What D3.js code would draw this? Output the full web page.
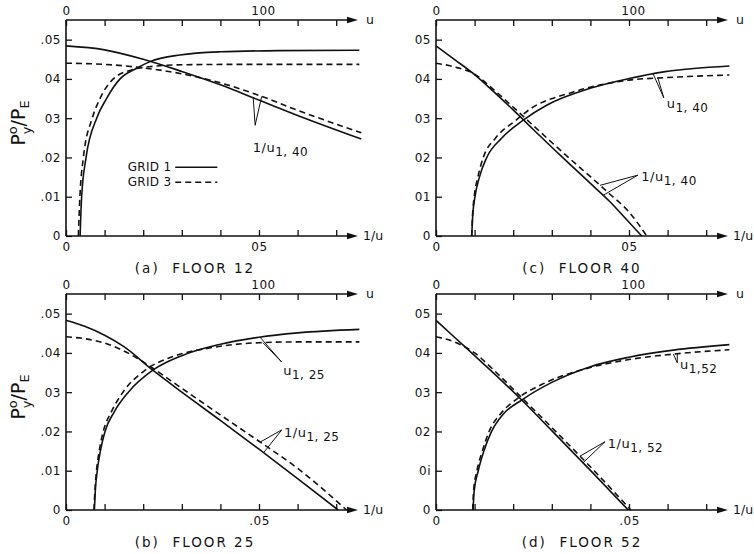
<!DOCTYPE html>
<html><head><meta charset="utf-8">
<script src="https://cdn.jsdelivr.net/npm/d3@7"></script>
<style>
body{margin:0;background:#fff}
text{font-family:"DejaVu Sans",sans-serif;fill:#111}
</style>
</head><body>
<svg id="chart" width="754" height="554"></svg>
<script>
// ---- axis ticks / labels ----
const uTicks = [0, 20, 40, 60, 80, 100, 120, 140];
const tTicks = [0, .01, .02, .03, .04, .05, .06, .07];
const yTicks = [0, .01, .02, .03, .04, .05];
const yLabels_a = ['0', '.01', '.02', '03', '04', '.05'];
const yLabels_b = ['0', '.01', '.02', '03', '.04', '.05'];
const yLabels_c = ['0', '01', '02', '03', '04', '05'];
const yLabels_d = ['0', '0i', '02', '03', '04', '05'];
const xLabel05 = ['05', '.05', '05', '.05']; // a, b, c, d
const panelLetters = ['(a)', '(b)', '(c)', '(d)'];
const floorNames = ['FLOOR 12', 'FLOOR 25', 'FLOOR 40', 'FLOOR 52'];

// ---- Floor 12 (a) ----
const a_rise_g1_u = [7.3, 8.1, 10.4, 15.9, 21, 28, 36.6, 43.5, 59, 80, 110, 152];
const a_rise_g1_p = [0, .01, .02, .03, .035, .04, .0427, .0444, .0461, .0469, .0472, .0473];
const a_rise_g3_u = [6.4, 7.2, 9, 13.6, 17.6, 24.5, 34.7, 45, 60, 90, 152];
const a_rise_g3_p = [0, .01, .02, .03, .035, .04, .0424, .0432, .0436, .0437, .0437];
const a_fall_g1_t = [0, .01, .02, .03, .04, .05, .06, .0765];
const a_fall_g1_p = [.0484, .0474, .0450, .0419, .0385, .0346, .0307, .0247];
const a_fall_g3_t = [0, .01, .02, .03, .04, .05, .06, .0765];
const a_fall_g3_p = [.0440, .0437, .0428, .0413, .0390, .0358, .0320, .0263];

// ---- Floor 25 (b) ----
const b_rise_g1_u = [14.7, 15.2, 16.2, 17.8, 20.2, 25, 32.3, 45, 60, 80, 100, 120, 152];
const b_rise_g1_p = [0, .005, .01, .015, .02, .025, .030, .0356, .0393, .0422, .0440, .0451, .0460];
const b_rise_g3_u = [14.5, 15, 15.8, 17.2, 19.3, 23.5, 29.5, 41, 55, 75, 100, 120, 152];
const b_rise_g3_p = [0, .005, .01, .015, .02, .025, .030, .0356, .0390, .0413, .0426, .0428, .0428];
const b_fall_g1_t = [0, .005, .01, .015, .0225, .03, .04, .05, .06, .0705];
const b_fall_g1_p = [.0483, .0467, .0445, .0416, .0356, .0300, .0228, .0155, .0080, 0];
const b_fall_g3_t = [0, .005, .01, .015, .02, .0225, .03, .04, .05, .06, .0727];
const b_fall_g3_p = [.0441, .0436, .0425, .0405, .0377, .0361, .0310, .0242, .0175, .0106, 0];

// ---- Floor 40 (c) ----
const c_rise_g1_u = [18.5, 19, 20.2, 22.5, 26.3, 34, 45.2, 57.3, 79.8, 100, 118, 152];
const c_rise_g1_p = [0, .005, .01, .015, .02, .0249, .0295, .0333, .0376, .0401, .0418, .0433];
const c_rise_g3_u = [18.5, 18.9, 19.8, 21.7, 24.5, 31, 41.5, 48.7, 70, 100, 118, 152];
const c_rise_g3_p = [0, .005, .01, .015, .02, .025, .0295, .0323, .0365, .0397, .0403, .0410];
const c_fall_g1_t = [0, .005, .01, .015, .02, .025, .03, .035, .04, .045, .05, .0533];
const c_fall_g1_p = [.0484, .0448, .0411, .0367, .0321, .0273, .0226, .0180, .0134, .0088, .0035, 0];
const c_fall_g3_t = [0, .005, .01, .015, .02, .025, .03, .035, .04, .045, .05, .0546];
const c_fall_g3_p = [.0440, .0430, .0412, .0372, .0328, .0283, .0238, .0194, .0151, .0107, .0061, 0];

// ---- Floor 52 (d) ----
const d_rise_g1_u = [19.2, 19.8, 21.9, 24.8, 28.8, 35, 44.4, 60, 80, 100, 123, 152];
const d_rise_g1_p = [0, .005, .01, .015, .02, .0245, .028, .0325, .0365, .0389, .0407, .0421];
const d_rise_g3_u = [19, 19.5, 21.2, 24, 27.5, 33.5, 42.5, 55, 80, 100, 123, 152];
const d_rise_g3_p = [0, .005, .01, .015, .02, .0245, .0285, .032, .0363, .0383, .0397, .0408];
const d_fall_g1_t = [0, .005, .01, .015, .0222, .03, .04, .0498];
const d_fall_g1_p = [.0483, .0438, .0393, .0348, .0280, .0202, .0101, 0];
const d_fall_g3_t = [0, .005, .01, .015, .0222, .03, .04, .0505];
const d_fall_g3_p = [.0441, .0427, .0400, .0356, .0286, .0210, .0110, 0];

const zip = (a, b) => a.map((v, i) => [v, b[i]]);

const panels = [
  {k: 0, x0: 66, y0: 236, yl: yLabels_a, yTitle: true,
   r1: zip(a_rise_g1_u, a_rise_g1_p), r3: zip(a_rise_g3_u, a_rise_g3_p),
   f1: zip(a_fall_g1_t, a_fall_g1_p), f3: zip(a_fall_g3_t, a_fall_g3_p),
   notes: [{kind: 'f', sub: '1, 40', ends: [[.0485, 1], [.0507, 3]], tip: [.049, .0282], lab: [.0484, .0224]}],
   legend: true},
  {k: 1, x0: 66, y0: 510, yl: yLabels_b, yTitle: true,
   r1: zip(b_rise_g1_u, b_rise_g1_p), r3: zip(b_rise_g3_u, b_rise_g3_p),
   f1: zip(b_fall_g1_t, b_fall_g1_p), f3: zip(b_fall_g3_t, b_fall_g3_p),
   notes: [{kind: 'r', sub: '1, 25', ends: [[100.5, 1], [102, 3]], tip: [111.7, .0377], lab: [112.5, .0353]},
           {kind: 'f', sub: '1, 25', ends: [[.0512, 1], [.0503, 3]], tip: [.0559, .0204], lab: [.0565, .0196]}]},
  {k: 2, x0: 436, y0: 236, yl: yLabels_c, yTitle: false,
   r1: zip(c_rise_g1_u, c_rise_g1_p), r3: zip(c_rise_g3_u, c_rise_g3_p),
   f1: zip(c_fall_g1_t, c_fall_g1_p), f3: zip(c_fall_g3_t, c_fall_g3_p),
   notes: [{kind: 'r', sub: '1, 40', ends: [[112.5, 1], [115, 3]], tip: [118, .0352], lab: [119.5, .0336]},
           {kind: 'f', sub: '1, 40', ends: [[.0433, 1], [.0425, 3]], tip: [.0523, .0155], lab: [.0532, .0150]}]},
  {k: 3, x0: 436, y0: 510, yl: yLabels_d, yTitle: false,
   r1: zip(d_rise_g1_u, d_rise_g1_p), r3: zip(d_rise_g3_u, d_rise_g3_p),
   f1: zip(d_fall_g1_t, d_fall_g1_p), f3: zip(d_fall_g3_t, d_fall_g3_p),
   notes: [{kind: 'r', sub: '1,52', ends: [[123, 3], [125, 3]], tip: [125, .0375], lab: [126.4, .0368]},
           {kind: 'f', sub: '1, 52', ends: [[.0381, 1], [.0373, 3]], tip: [.0438, .0174], lab: [.0445, .0168]}]}
];

const svg = d3.select('#chart');
const INK = '#111';

function drawPanel(p) {
  const g = svg.append('g');
  const W = 193; // px per 100 u  /  per .05 of 1/u
  const xu = d3.scaleLinear().domain([0, 100]).range([p.x0, p.x0 + W]);
  const xt = d3.scaleLinear().domain([0, .05]).range([p.x0, p.x0 + W]);
  const y = d3.scaleLinear().domain([0, .055]).range([p.y0, p.y0 - 216]);
  const yTop = y(.055);
  const xEnd = p.x0 + 292;

  const styleAxis = sel => {
    sel.attr('font-family', '"DejaVu Sans",sans-serif').attr('font-size', 12);
    sel.selectAll('line').attr('stroke', INK).attr('stroke-width', 1.3);
    sel.selectAll('text').attr('fill', INK).style('letter-spacing', '0.5px');
  };

  // bottom axis (1/u)
  const bx = g.append('g').attr('transform', `translate(0,${p.y0})`)
    .call(d3.axisBottom(xt).tickValues(tTicks).tickSizeInner(-6).tickSizeOuter(0).tickPadding(6)
      .tickFormat(d => Math.abs(d) < 1e-9 ? '0' : Math.abs(d - .05) < 1e-9 ? xLabel05[p.k] : ''));
  bx.select('.domain').remove();
  styleAxis(bx);

  // top axis (u)
  const tx = g.append('g').attr('transform', `translate(0,${yTop})`)
    .call(d3.axisTop(xu).tickValues(uTicks).tickSizeInner(-6).tickSizeOuter(0).tickPadding(5)
      .tickFormat(d => d === 0 ? '0' : d === 100 ? '100' : ''));
  tx.select('.domain').remove();
  styleAxis(tx);
  tx.selectAll('.tick text').filter(d => d === 100).attr('dx', 4);

  // left axis
  const lx = g.append('g').attr('transform', `translate(${p.x0},0)`)
    .call(d3.axisLeft(y).tickValues(yTicks).tickSizeInner(-6).tickSizeOuter(0).tickPadding(5)
      .tickFormat((d, i) => p.yl[i]));
  lx.select('.domain').attr('stroke', INK).attr('stroke-width', 1.6)
    .attr('d', `M0,${p.y0}V${yTop}`);
  styleAxis(lx);

  // horizontal axis lines with arrows
  [[p.y0, '1/u', 5], [yTop, 'u', 8]].forEach(([yy, lab, off]) => {
    g.append('line').attr('x1', p.x0).attr('x2', xEnd - 6).attr('y1', yy).attr('y2', yy)
      .attr('stroke', INK).attr('stroke-width', 1.6);
    g.append('path').attr('d', `M${xEnd},${yy}L${xEnd - 11},${yy - 3.2}L${xEnd - 11},${yy + 3.2}Z`)
      .attr('fill', INK);
    g.append('text').attr('x', xEnd + off).attr('y', yy).attr('dy', '0.35em')
      .attr('font-size', 12.5).text(lab);
  });

  // curves
  const lineU = d3.line().x(d => xu(d[0])).y(d => y(d[1])).curve(d3.curveMonotoneX);
  const lineT = d3.line().x(d => xt(d[0])).y(d => y(d[1])).curve(d3.curveMonotoneX);
  const draw = (gen, data, dashed) => g.append('path').attr('d', gen(data)).attr('fill', 'none')
    .attr('stroke', INK).attr('stroke-width', 1.6).attr('stroke-dasharray', dashed ? '6,4' : null);
  draw(lineU, p.r1, false); draw(lineU, p.r3, true);
  draw(lineT, p.f1, false); draw(lineT, p.f3, true);

  // annotations
  const interp = data => d3.scaleLinear().domain(data.map(d => d[0])).range(data.map(d => d[1]));
  p.notes.forEach(n => {
    const sx = n.kind === 'r' ? xu : xt;
    const c1 = interp(n.kind === 'r' ? p.r1 : p.f1), c3 = interp(n.kind === 'r' ? p.r3 : p.f3);
    const tx0 = sx(n.tip[0]), ty0 = y(n.tip[1]);
    n.ends.forEach(([v, gr]) => {
      const yy = y(gr === 1 ? c1(v) : c3(v));
      g.append('line').attr('x1', tx0).attr('y1', ty0).attr('x2', sx(v)).attr('y2', yy)
        .attr('stroke', INK).attr('stroke-width', 1);
    });
    const t = g.append('text').attr('x', sx(n.lab[0])).attr('y', y(n.lab[1])).attr('dy', '0.3em')
      .attr('font-size', 13).style('letter-spacing', '0.5px');
    t.append('tspan').text(n.kind === 'r' ? 'u' : '1/u');
    t.append('tspan').attr('dy', 4).attr('font-size', 12).text(n.sub);
  });

  // title
  const cx = p.x0 + (p.x0 < 100 ? 129 : 146);
  g.append('text').attr('x', cx).attr('y', p.y0 + 37).attr('text-anchor', 'middle')
    .attr('font-size', 13.5).style('letter-spacing', '2px').style('white-space', 'pre')
    .text(panelLetters[p.k] + '  ' + floorNames[p.k]);

  // y title
  if (p.yTitle) {
    const yt = g.append('text').attr('transform', `translate(25,${p.y0 - 113}) rotate(-90)`)
      .attr('text-anchor', 'middle').attr('font-size', 19);
    yt.append('tspan').text('P');
    yt.append('tspan').attr('font-size', 13).attr('dy', -8).text('o');
    yt.append('tspan').attr('font-size', 13).attr('dx', -8).attr('dy', 14).text('y');
    yt.append('tspan').attr('dy', -6).text('/');
    yt.append('tspan').text('P');
    yt.append('tspan').attr('font-size', 13).attr('dy', 4).text('E');
  }

  // legend
  if (p.legend) {
    const lg = [['GRID 1', false, .0175], ['GRID 3', true, .0137]];
    lg.forEach(([lab, dashed, v]) => {
      const yy = y(v);
      g.append('text').attr('x', xt(.0160)).attr('y', yy).attr('dy', '0.35em')
        .attr('font-size', 12).style('letter-spacing', '0.3px').text(lab);
      g.append('line').attr('x1', xt(.0283)).attr('x2', xt(.0392)).attr('y1', yy).attr('y2', yy)
        .attr('stroke', INK).attr('stroke-width', 1.4).attr('stroke-dasharray', dashed ? '6,4' : null);
    });
  }
}

panels.forEach(drawPanel);
</script>
</body></html>
